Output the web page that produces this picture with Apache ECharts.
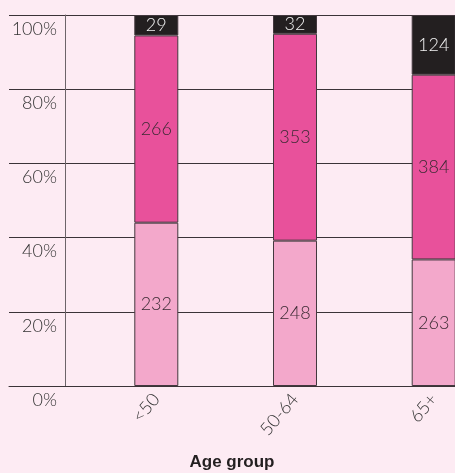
<!DOCTYPE html>
<html>
<head>
<meta charset="utf-8">
<script src="https://cdn.jsdelivr.net/npm/echarts@6/dist/echarts.min.js"></script>
<style>
  html, body { margin: 0; padding: 0; background: #fdebf3; }
  #chart { width: 455px; height: 473px; }
</style>
</head>
<body>
<div id="chart"></div>
<script>
// age groups
const categories = ['<50', '50-64', '65+'];
// counts per group, bottom to top of each bar
const lowCounts = [232, 248, 263];
const midCounts = [266, 353, 384];
const topCounts = [29, 32, 124];
const yTicks = [0, 20, 40, 60, 80, 100];

const totals = categories.map((c, i) => lowCounts[i] + midCounts[i] + topCounts[i]);
const toPct = (arr) => arr.map((v, i) => v / totals[i] * 100);

const chart = echarts.init(document.getElementById('chart'));

const labelFont = { fontFamily: 'Lato', fontWeight: 300, fontSize: 18 };

function makeSeries(name, counts, color, textColor) {
    return {
        name: name,
        type: 'bar',
        stack: 'all',
        xAxisIndex: 1,
        yAxisIndex: 1,
        barWidth: 44,
        data: toPct(counts),
        itemStyle: { color: color, borderColor: '#43383e', borderWidth: 1 },
        label: {
            show: true,
            position: 'inside',
            color: textColor,
            ...labelFont,
            formatter: (p) => counts[p.dataIndex]
        },
        emphasis: { disabled: true }
    };
}

let option = {
    backgroundColor: '#fdebf3',
    animation: false,
    grid: [
        // frame: gridlines, y labels, axis title
        { left: 9, right: 0, top: 15, bottom: 87, outerBoundsMode: 'none' },
        // bars
        { left: 86.95, right: -48.05, top: 15, bottom: 87, outerBoundsMode: 'none' }
    ],
    xAxis: [
        {
            gridIndex: 0,
            type: 'value',
            min: 0,
            max: 1,
            name: 'Age group',
            nameLocation: 'middle',
            nameGap: 68,
            nameTextStyle: { fontFamily: 'Liberation Sans', fontWeight: 'bold', fontSize: 17, color: '#231f20' },
            axisLine: { show: true, lineStyle: { color: '#3b3337', width: 1 } },
            axisTick: { show: false },
            splitLine: { show: false },
            axisLabel: { show: false }
        },
        {
            gridIndex: 1,
            type: 'category',
            data: categories,
            axisLine: { show: false },
            axisTick: { show: false },
            axisLabel: {
                interval: 0,
                rotate: 50,
                margin: 10,
                color: '#333',
                ...labelFont
            }
        }
    ],
    yAxis: [
        {
            gridIndex: 0,
            type: 'value',
            min: 0,
            max: 100,
            interval: 20,
            offset: -56,
            axisLine: { show: true, onZero: false, lineStyle: { color: '#6d6469', width: 1 } },
            axisTick: { show: false },
            splitLine: { show: true, lineStyle: { color: '#3b3337', width: 1 } },
            axisLabel: {
                customValues: yTicks,
                formatter: '{value}%',
                margin: 8,
                verticalAlign: 'top',
                padding: [5, 0, 0, 0],
                color: '#333',
                ...labelFont
            }
        },
        {
            gridIndex: 1,
            type: 'value',
            min: 0,
            max: 100,
            show: false
        }
    ],
    series: [
        makeSeries('low', lowCounts, '#f3a8cb', '#3b2a33'),
        makeSeries('mid', midCounts, '#e8519b', '#3b2a33'),
        makeSeries('top', topCounts, '#231f20', '#f2f2f2')
    ]
};

chart.setOption(option);
</script>
</body>
</html>
